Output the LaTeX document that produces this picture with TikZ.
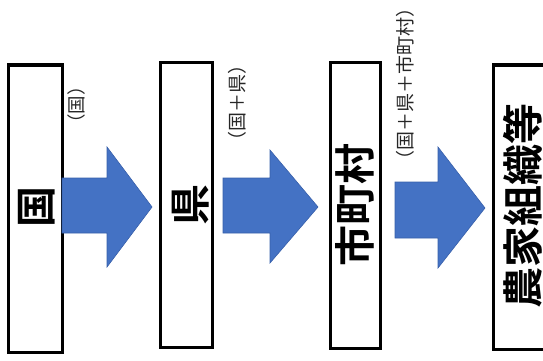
\documentclass[tikz,border=0pt]{standalone}
\usepackage{fontspec}
\newfontfamily\jp{Noto Sans CJK JP}[BoldFont={Noto Sans CJK JP Bold}]
\begin{document}
\begin{tikzpicture}[x=1pt,y=-1pt,
  box/.style={draw=black,line width=3pt,fill=white,minimum width=#1,inner sep=0pt,outer sep=0pt},
  big/.style={font=\jp\bfseries\fontsize{41}{41}\selectfont,rotate=90,inner sep=0pt},
  lab/.style={font=\jp\fontsize{#1}{#1}\selectfont,text=black!85,rotate=90,inner sep=0pt},
  barrow/.style={fill={rgb,255:red,68;green,114;blue,196},draw={rgb,255:red,55;green,95;blue,170},line width=0.6pt,line join=miter}]
\useasboundingbox (0,0) rectangle (543,361);
% boxes
\node[box=54pt,minimum height=287pt] (b1) at (35,208.5) {};
\node[box=52pt,minimum height=284pt] (b2) at (186,205) {};
\node[box=50pt,minimum height=285pt] (b3) at (355,205.5) {};
\node[box=55pt,minimum height=284pt] (b4) at (520.5,207) {};
% arrows
\draw[barrow] (62,178) -- (107,178) -- (107,147) -- (152,207) -- (107,267) -- (107,233) -- (62,233) -- cycle;
\draw[barrow] (223,178) -- (270,178) -- (270,150) -- (318,207) -- (270,263) -- (270,233) -- (223,233) -- cycle;
\draw[barrow] (395,182) -- (438,182) -- (438,147) -- (485,208) -- (438,268) -- (438,238) -- (395,238) -- cycle;
% texts
\node[big] (t1) at (37,207) {国};
\node[big] (t2) at (191,205) {県};
\node[big] (t3) at (355,205) {市町村};
\node[big] (t4) at (523,206) {農家組織等};
\node[lab=18.5] (l1) at (76,105) {（国）};
\node[lab=19] (l2) at (237,103) {（国＋県）};
\node[lab=19] (l3) at (405,84) {（国＋県＋市町村）};
\end{tikzpicture}
\end{document}
